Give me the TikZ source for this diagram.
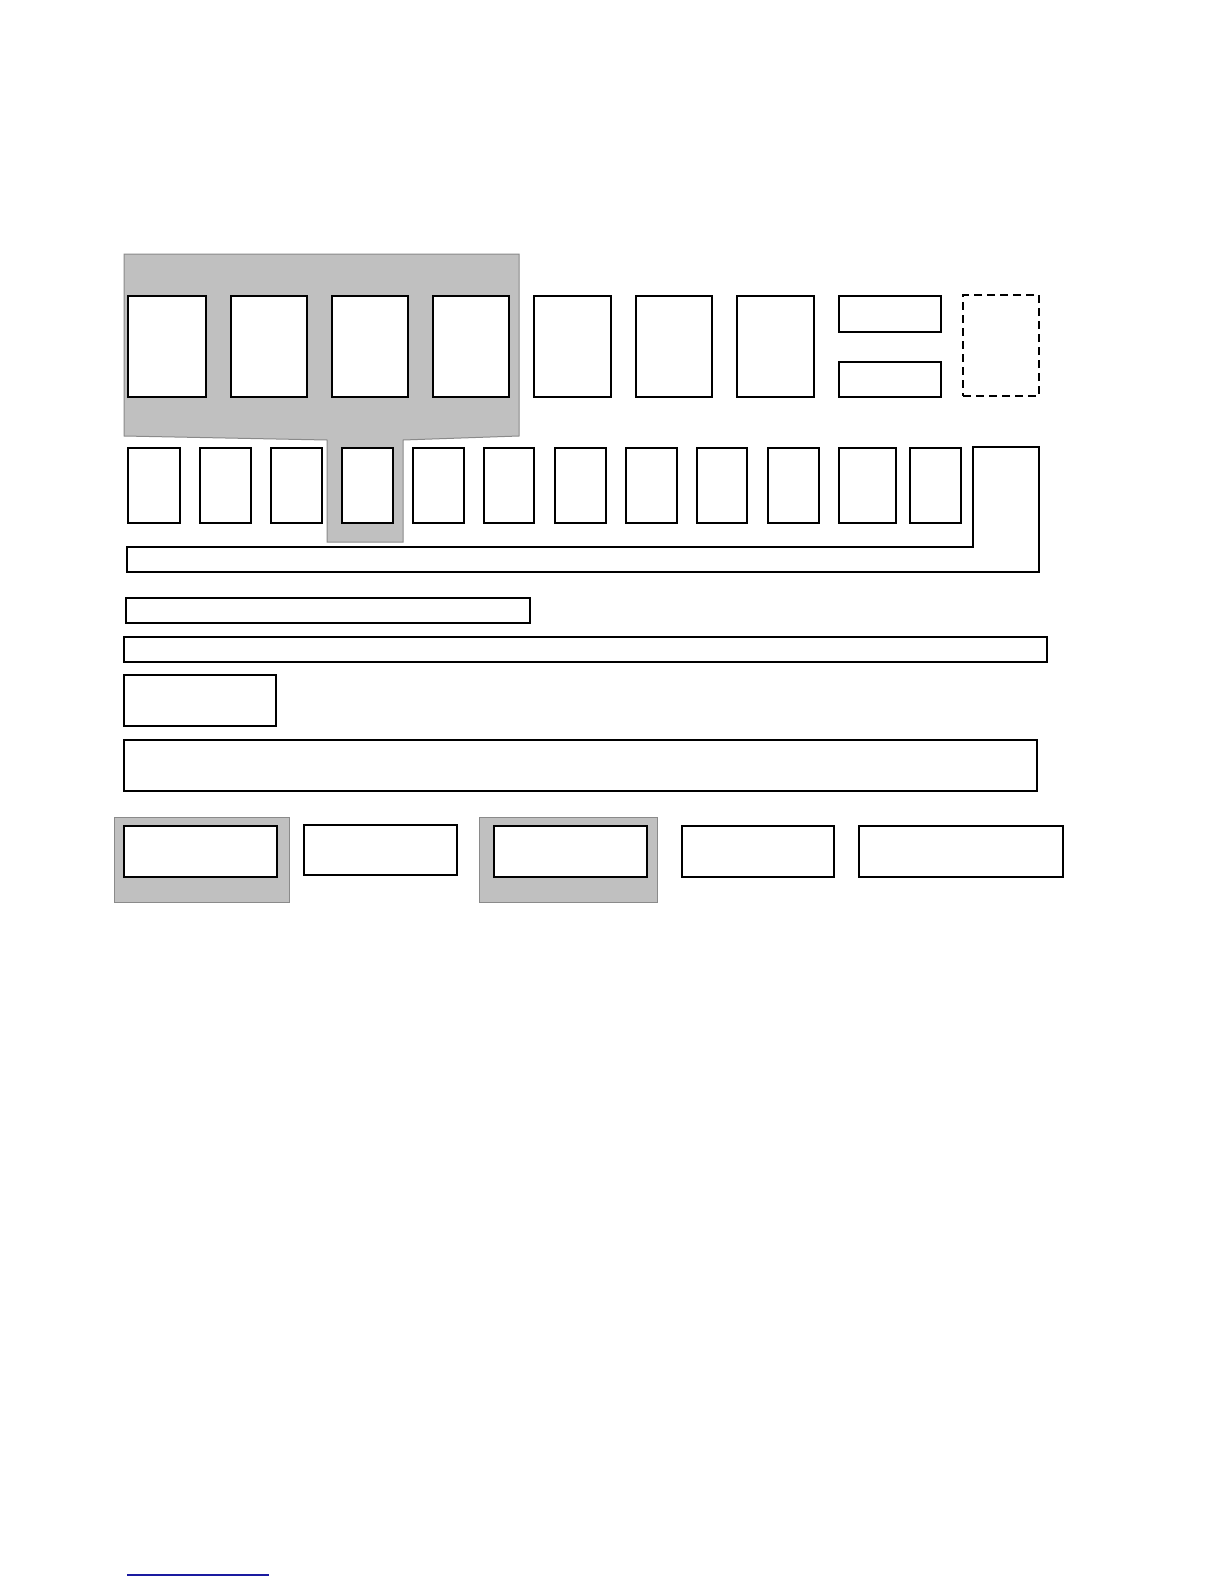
\documentclass[tikz,border=0pt]{standalone}
\usetikzlibrary{calc}
\definecolor{panel}{HTML}{C0C0C0}
\definecolor{paneledge}{HTML}{8A8A8A}
\definecolor{rulecol}{HTML}{1A1AA0}
\tikzset{
  bx/.style={draw=black, fill=white, line width=1.6pt, inner sep=0pt, outer sep=0pt, rectangle},
  dashbx/.style={bx, dash pattern=on 8pt off 5pt},
  panelshape/.style={fill=panel, draw=paneledge, line width=1pt},
}
% \Bx[style]{name}{x1}{y1}{x2}{y2}
\newcommand\Bx[6][]{\node[bx,#1,minimum width={(#5-#3)*1pt},minimum height={(#6-#4)*1pt}] (#2) at ({(#3+#5)/2},{(#4+#6)/2}) {};}
\begin{document}
\begin{tikzpicture}[x=1pt,y=-1pt]
\useasboundingbox[fill=white] (0,0) rectangle (1224,1584);
% grey panel behind top-left boxes
\draw[panelshape] (124,254) -- (519,254) -- (519,436) -- (403,440) -- (403,542) -- (327,542) -- (327,440) -- (124,436) -- cycle;
% grey panels bottom row
\draw[panelshape] (114,817) rectangle (289,902);
\draw[panelshape] (479,817) rectangle (657,902);
% top row
\Bx{t1}{128}{296}{206}{397}
\Bx{t2}{231}{296}{307}{397}
\Bx{t3}{332}{296}{408}{397}
\Bx{t4}{433}{296}{509}{397}
\Bx{t5}{534}{296}{611}{397}
\Bx{t6}{636}{296}{712}{397}
\Bx{t7}{737}{296}{814}{397}
\Bx{s1}{839}{296}{941}{332}
\Bx{s2}{839}{362}{941}{397}
\Bx[dashbx]{d1}{963}{295}{1039}{396}
% second row
\Bx{r1}{128}{448}{180}{523}
\Bx{r2}{200}{448}{251}{523}
\Bx{r3}{271}{448}{322}{523}
\Bx{r4}{342}{448}{393}{523}
\Bx{r5}{413}{448}{464}{523}
\Bx{r6}{484}{448}{534}{523}
\Bx{r7}{555}{448}{606}{523}
\Bx{r8}{626}{448}{677}{523}
\Bx{r9}{697}{448}{747}{523}
\Bx{r10}{768}{448}{819}{523}
\Bx{r11}{839}{448}{896}{523}
\Bx{r12}{910}{448}{961}{523}
% L-shaped frame
\draw[line width=1.4pt, line join=miter] (973,447) -- (1039,447) -- (1039,572) -- (127,572) -- (127,547) -- (973,547) -- cycle;
% bars
\Bx{b1}{126}{598}{530}{623}
\Bx{b2}{124}{637}{1047}{662}
\Bx{b3}{124}{675}{276}{726}
\Bx{b4}{124}{740}{1037}{791}
% bottom row
\Bx{c1}{124}{826}{277}{877}
\Bx{c2}{304}{825}{457}{875}
\Bx{c3}{494}{826}{647}{877}
\Bx{c4}{682}{826}{834}{877}
\Bx{c5}{859}{826}{1063}{877}
% footnote rule
\coordinate (fl) at (127,1575);
\coordinate (fr) at (269,1575);
\draw[rulecol, line width=1.4pt] (fl) -- (fr);
\end{tikzpicture}
\end{document}
